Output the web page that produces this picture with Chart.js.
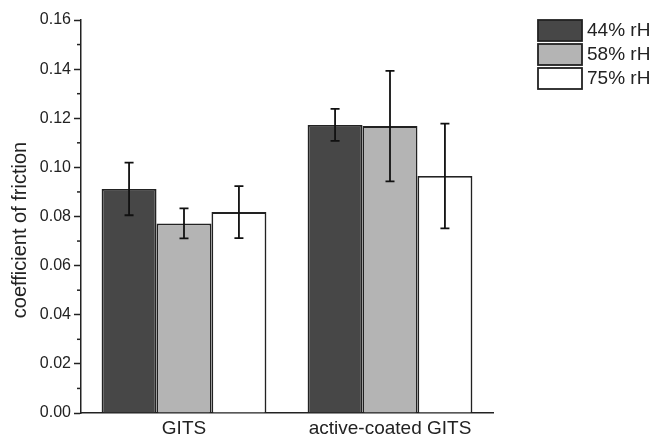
<!DOCTYPE html>
<html>
<head>
<meta charset="utf-8">
<script src="https://cdn.jsdelivr.net/npm/chart.js@4/dist/chart.umd.min.js"></script>
<style>
  body { margin: 0; background: #fff; }
  canvas { display: block; }
</style>
</head>
<body>
<canvas id="chart" width="655" height="436"></canvas>
<script>
// data
const categories = ['GITS', 'active-coated GITS'];
const seriesLabels = ['44% rH', '58% rH', '75% rH'];
const rh44 = [0.0912, 0.1173];
const rh58 = [0.0772, 0.1168];
const rh75 = [0.0818, 0.0965];
const err44 = [0.0107, 0.0065];
const err58 = [0.0061, 0.0225];
const err75 = [0.0106, 0.0213];
const yTicks = [0, 0.02, 0.04, 0.06, 0.08, 0.10, 0.12, 0.14, 0.16];
const yMinorTicks = [0.01, 0.03, 0.05, 0.07, 0.09, 0.11, 0.13, 0.15];
const yTitle = 'coefficient of friction';

const FONT = '"Liberation Sans", Arial, sans-serif';
const colors = ['#474747', '#b4b4b4', '#ffffff'];
const errors = [err44, err58, err75];

const errorBars = {
    id: 'errorBars',
    afterDatasetsDraw(chart) {
        const ctx = chart.ctx;
        const y = chart.scales.y;
        ctx.save();
        ctx.strokeStyle = '#111';
        ctx.lineWidth = 1.8;
        chart.data.datasets.forEach((ds, i) => {
            const meta = chart.getDatasetMeta(i);
            meta.data.forEach((bar, j) => {
                const v = ds.data[j], e = errors[i][j];
                const top = y.getPixelForValue(v + e);
                const bot = y.getPixelForValue(v - e);
                ctx.beginPath();
                ctx.moveTo(bar.x, top); ctx.lineTo(bar.x, bot);
                ctx.moveTo(bar.x - 4.5, top); ctx.lineTo(bar.x + 4.5, top);
                ctx.moveTo(bar.x - 4.5, bot); ctx.lineTo(bar.x + 4.5, bot);
                ctx.stroke();
            });
        });
        ctx.restore();
    }
};

// minor y ticks plus the axis title (sits a bit below the axis centre in the original)
const yExtras = {
    id: 'yExtras',
    afterDraw(chart) {
        const ctx = chart.ctx;
        const y = chart.scales.y;
        ctx.save();
        ctx.strokeStyle = '#222';
        ctx.lineWidth = 1.5;
        yMinorTicks.forEach(v => {
            const py = y.getPixelForValue(v);
            ctx.beginPath();
            ctx.moveTo(y.right - 4, py);
            ctx.lineTo(y.right, py);
            ctx.stroke();
        });
        ctx.translate(20, 230);
        ctx.rotate(-Math.PI / 2);
        ctx.font = '20px ' + FONT;
        ctx.fillStyle = '#222';
        ctx.textAlign = 'center';
        ctx.textBaseline = 'middle';
        ctx.fillText(yTitle, 0, 0);
        ctx.restore();
    }
};

const boxLegend = {
    id: 'boxLegend',
    afterDraw(chart) {
        const ctx = chart.ctx;
        ctx.save();
        ctx.font = '19px ' + FONT;
        ctx.textBaseline = 'middle';
        chart.data.datasets.forEach((ds, i) => {
            const top = 20 + i * 24;
            ctx.fillStyle = ds.backgroundColor;
            ctx.fillRect(538, top, 44, 21);
            ctx.strokeStyle = '#222';
            ctx.lineWidth = 1.8;
            ctx.strokeRect(538, top, 44, 21);
            ctx.fillStyle = '#222';
            ctx.fillText(ds.label, 587, top + 11);
        });
        ctx.restore();
    }
};

new Chart(document.getElementById('chart'), {
    type: 'bar',
    data: {
        labels: categories,
        datasets: [rh44, rh58, rh75].map((d, i) => ({
            label: seriesLabels[i],
            data: d,
            backgroundColor: colors[i],
            borderColor: '#222',
            borderWidth: 1.8,
            categoryPercentage: 0.8,
            barPercentage: 1.0
        }))
    },
    options: {
        responsive: false,
        animation: false,
        devicePixelRatio: 1,
        layout: { padding: { left: 0, right: 162, top: 20, bottom: 0 } },
        plugins: { legend: { display: false }, tooltip: { enabled: false } },
        scales: {
            x: {
                grid: { display: false, drawTicks: false },
                border: { display: true, color: '#222', width: 1.5 },
                ticks: { color: '#222', font: { family: FONT, size: 19 }, padding: 4 },
                afterFit: s => { s.height = 23; }
            },
            y: {
                min: 0,
                max: 0.16,
                afterBuildTicks: s => { s.ticks = yTicks.map(v => ({ value: v })); },
                grid: { drawOnChartArea: false, drawTicks: true, tickLength: 7, tickColor: '#222', tickWidth: 1.5 },
                border: { display: true, color: '#222', width: 1.5 },
                ticks: { color: '#222', font: { family: FONT, size: 16 }, padding: 3, callback: v => v.toFixed(2) },
                afterFit: s => { s.width = 81; }
            }
        }
    },
    plugins: [errorBars, yExtras, boxLegend]
});
</script>
</body>
</html>
